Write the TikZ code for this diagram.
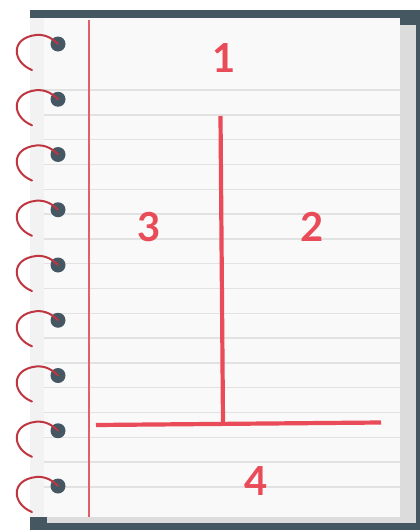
\documentclass[tikz,border=0pt]{standalone}
\usepackage{fontspec}
\setmainfont{Lato}
\definecolor{cover}{HTML}{455761}
\definecolor{backpage}{HTML}{DCDCDC}
\definecolor{paper}{HTML}{F9F9F9}
\definecolor{paperedge}{HTML}{F2F2F2}
\definecolor{rulegray}{HTML}{E2E2E2}
\definecolor{marginred}{HTML}{E0606A}
\definecolor{ink}{HTML}{E94B58}
\definecolor{ring}{HTML}{BF3640}
\definecolor{hole}{HTML}{455763}
\begin{document}
\begin{tikzpicture}[x=1pt,y=-1pt,
  ruleline/.style={draw=rulegray,line width=1.4pt},
  tline/.style={draw=ink,line width=4.2pt},
  digit/.style={text=ink,font=\fontsize{40}{40}\selectfont\bfseries,inner sep=0pt},
  holedot/.style={circle,fill=hole,minimum size=15pt,inner sep=0pt},
  ringarc/.style={draw=ring,line width=2pt,line cap=round}]
\useasboundingbox (0,0) rectangle (420,530);
% covers and pages
\fill[cover] (30,10) rectangle (420,530);
\fill[backpage] (47,25) rectangle (416,523);
\fill[paper] (30,18) rectangle (400,517);
\fill[paperedge] (30,18) rectangle (44,517);
% ruled lines
\draw[ruleline] (30,90) -- (400,90);
\foreach \i in {1,...,16}{
  \draw[ruleline] (44,90+24.8*\i) -- (400,90+24.8*\i);
}
% margin line (drawn as a thin filled strip)
\fill[marginred] (88.4,20) rectangle (89.8,517);
% spiral rings
\foreach \k in {0,...,8}{
  \pgfmathsetmacro{\yy}{44+55.25*\k}
  \node[holedot] (h\k) at (58,\yy) {};
  \draw[ringarc] (32,\yy+26) .. controls (12,\yy+18) and (10,\yy-6) .. (36,\yy-9)
     .. controls (46,\yy-10) and (53,\yy-5) .. (h\k.center);
}
% T chart
\coordinate (vtop) at (220.5,116);
\coordinate (vbot) at (223,423);
\coordinate (hl) at (96,425);
\coordinate (hr) at (381,422.5);
\draw[tline] (vtop) -- (vbot);
\draw[tline] (hl) -- (hr);
% labels
\node[digit] (n1) at (224,58) {1};
\node[digit] (n2) at (312,227) {2};
\node[digit] (n3) at (149,227) {3};
\node[digit] (n4) at (256,481) {4};
\end{tikzpicture}
\end{document}
